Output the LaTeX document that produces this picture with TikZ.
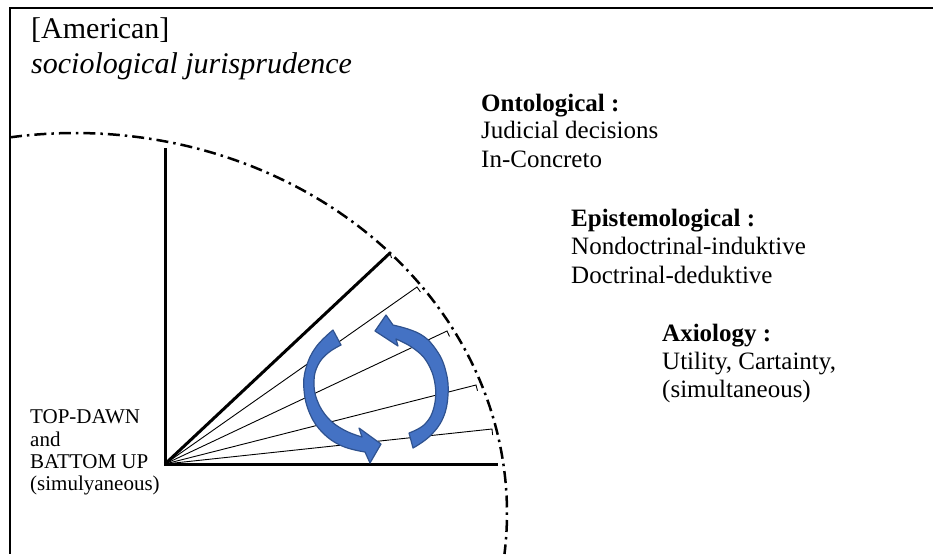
\documentclass[tikz,border=0pt]{standalone}
\usepackage{fontspec}
\setmainfont{Liberation Serif}
\usetikzlibrary{positioning}
\definecolor{arrowBlue}{HTML}{4472C4}
\definecolor{arrowEdge}{HTML}{2F528F}

\begin{document}
\begin{tikzpicture}
[x=1pt,y=-1pt,%
  frameLine/.style={line width=2.5pt,line join=miter},%
  rayThick/.style={-,line width=3pt},%
  rayThin/.style={-,line width=0.9pt},%
  arcDecorate/.style={line width=2.5pt,dash pattern=on 12pt off 5pt on 2.5pt off 5pt},%
  arrowDecorate/.style={fill=arrowBlue,draw=arrowEdge,line width=1.2pt,line join=round},%
  headText/.style={anchor=base west,inner sep=0pt,font=\fontsize{30}{34}\selectfont},%
  sideText/.style={anchor=base west,inner sep=0pt,font=\fontsize{25}{28}\selectfont},%
  leftText/.style={anchor=base west,inner sep=0pt,font=\fontsize{21}{23}\selectfont}]
\useasboundingbox (0,0) rectangle (933,554);
%% frame
\draw[frameLine] (933,8) -- (10,8) -- (10,554);
%% title
\node[headText] (title) at (31,38) {[American]};
\node[headText] (subtitle) at (31,73) {\itshape sociological jurisprudence};
%% dash-dot arc
\coordinate (arcC) at (75,513);
\draw[arcDecorate] (arcC) ++(-98.65:432 and 380)
  arc[start angle=-98.65,end angle=6.19,x radius=432,y radius=380];
%% fan of rays
\coordinate (O) at (165,464);
\coordinate (top) at (165,148);
\coordinate (base) at (498,464);
\coordinate (edge) at (390,253);
\draw[rayThick] (top) -- (O) -- (base);
\draw[rayThick] (O) -- (edge);
\draw[rayThin] (edge) -- ++(1.5,5);
\foreach \rayname/\x/\y/\dx/\dy in {
  r1/417/287/3.4/4.9, r2/447/331/2.5/5.4,
  r3/476/385/1.5/5.8, r4/492/429/0.6/6}
{
  \coordinate (\rayname) at (\x,\y);
  \draw[rayThin] (O) -- (\rayname) -- ++(\dx,\dy);
}
%% circular arrows
\filldraw[arrowDecorate]
  plot[smooth,tension=0.7] coordinates {(333,330) (316,347) (306,368) (304,390) (310,414) (323,433) (342,446) (365,452)}
  -- (370,463) -- (381,444) -- (359,428)
  -- plot[smooth,tension=0.7] coordinates {(362,437) (344,430) (328,418) (317,400) (314,381) (318,365) (328,353) (341,345)}
  -- cycle;
\filldraw[arrowDecorate]
  plot[smooth,tension=0.7] coordinates {(413,448) (430,436) (443,418) (448,395) (446,372) (437,351) (420,334) (393,325)}
  -- (386,315) -- (375,331) -- (398,346)
  -- plot[smooth,tension=0.7] coordinates {(396,339) (413,348) (427,362) (435,384) (434,407) (425,424) (409,433)}
  -- cycle;
%% side labels
\foreach \nodename/\x/\y/\txt in {
  onto/481/111/{\textbf{Ontological :}}, onto1/481/138/{Judicial decisions},
  onto2/481/167/{In-Concreto},
  epis/571/226/{\textbf{Epistemological :}}, epis1/571/254/{Nondoctrinal-induktive},
  epis2/571/283/{Doctrinal-deduktive},
  axio/662/341/{\textbf{Axiology :}}, axio1/662/369/{Utility, Cartainty,},
  axio2/662/397/{(simultaneous)}}
{
  \node[sideText] (\nodename) at (\x,\y) {\txt};
}
\foreach \nodename/\y/\txt in {
  dir1/423/{TOP-DAWN}, dir2/446/{and},
  dir3/468/{BATTOM UP}, dir4/490/{(simulyaneous)}}
{
  \node[leftText] (\nodename) at (30,\y) {\txt};
}
\end{tikzpicture}
\end{document}
